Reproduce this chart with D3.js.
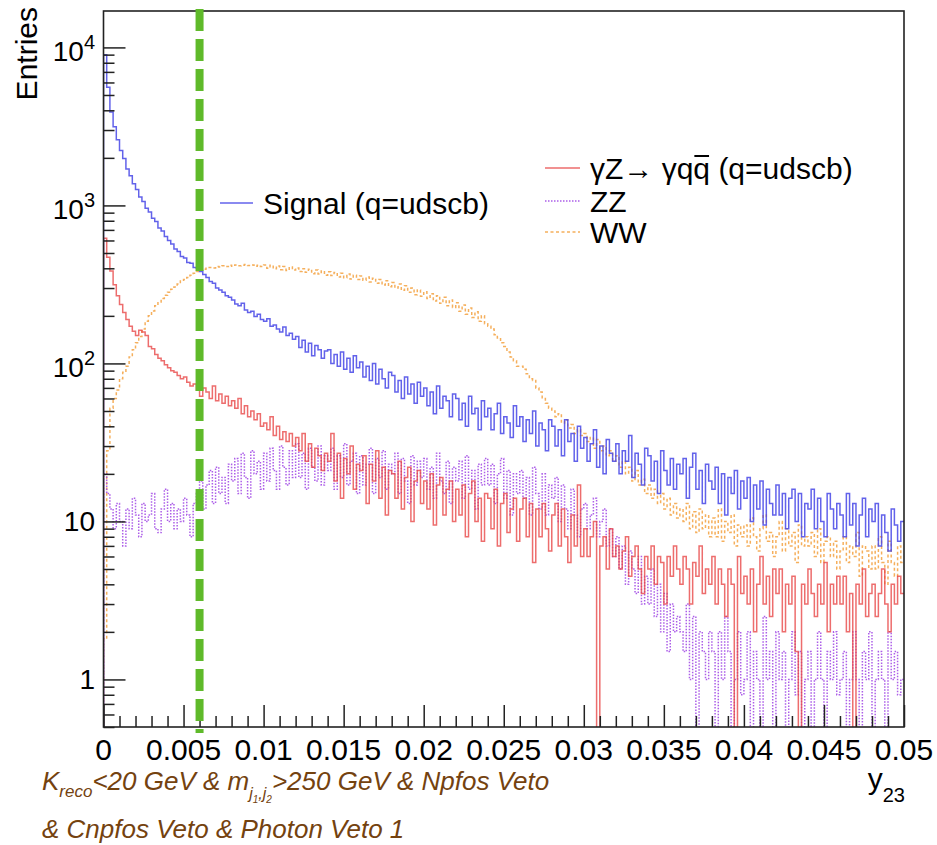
<!DOCTYPE html>
<html><head><meta charset="utf-8">
<script src="https://cdn.jsdelivr.net/npm/d3@7"></script>
<style>body{margin:0;background:#fff}svg{display:block}</style>
</head><body><svg id="c" width="937" height="845"></svg>
<script>
// ---------------- DATA ----------------
const xDomain = [0, 0.05];
const yDomain = [0.5, 17000];
const xTickValues = [0, 0.005, 0.01, 0.015, 0.02, 0.025, 0.03, 0.035, 0.04, 0.045, 0.05];
const xTickLabels = ["0", "0.005", "0.01", "0.015", "0.02", "0.025", "0.03", "0.035", "0.04", "0.045", "0.05"];
const yTickValues = [1, 10, 100, 1000, 10000];
const yTickBase = ["1", "10", "10", "10", "10"];
const yTickExp = ["", "", "2", "3", "4"];
const cutValue = 0.006;

// 250 bins of width 0.0002 from 0 to 0.05
const signal = [
 9000,5600,3900,3150,2600,2230,1980,1700,1540,1370,
 1260,1130,1060,960,910,830,790,720,690,635,
 600,570,530,510,475,465,435,430,405,400,
 382,365,350,330,322,300,292,282,268,262,
 252,238,232,240,218,210,214,198,205,190,
 185,192,172,175,165,158,170,150,155,142,
 148,126,140,118,134,112,130,122,108,120,
 122,100,114,96,118,92,108,88,112,94,
 102,82,96,78,100,74,92,80,70,88,
 84,66,78,60,82,64,74,56,76,62,
 70,54,66,48,72,52,62,58,46,64,
 60,44,56,40,62,48,52,38,58,46,
 52,38,48,56,36,46,42,34,54,40,
 46,32,44,36,50,30,42,38,28,44,
 40,30,38,26,44,32,36,24,40,29,
 34,24,31,38,22,30,20,33,27,24,
 31,20,28,24,35,19,27,23,17,29,
 26,18,24,15,28,21,17,25,16,23,
 20,25,14,22,27,16,21,13,23,18,
 16,22,13,20,11,19,15,21,12,18,
 14,19,10,17,12,18,9.5,16,13,11,
 17,11,15,9,14,16,10,15,8,13,
 12,16,9,14,10,8,15,12,9,13,
 11,8,15,9.5,13,7,11,14,8,12,
 10,13,7,11,8.5,6.5,12,9.5,7.5,10
];
const gammaZ = [
 620,470,385,315,268,236,210,190,172,160,
 150,162,158,150,128,124,114,108,104,98,
 94,90,88,84,80,82,76,72,74,68,
 62,70,66,60,72,58,64,56,62,54,
 58,52,60,48,54,46,50,44,48,40,
 42,38,46,35,40,33,37,32,36,30,
 34,28,36,24,31,22,29,26,21,27,
 24,36,18,27,14,25,20,30,16,23,
 21,26,13,23,18,28,14,22,11,21,
 20,14,24,12,19,22,10,18,21,13,
 18,12,20,9.5,17,19,11,16,18,10,
 16,11,17,8,15,18,10,14,7.5,15,
 14,9,16,7,13,15,8.5,12,14,7.5,
 12,14,8,13,5.5,12,8,13,9,6.5,
 11,13,7,12,8,5.5,11,7,17,6,
 9,6,8,10,0,7,8,5,9,6,
 7,5,6.5,8,4.5,6,7,5,3.5,6,
 5,7,4,6,5.5,3,6,4.5,7,5,
 4,6,5,3,5.5,4.5,7,3.5,5,4,
 6,3,5,4,2.5,5,4,0,6,3.5,
 4.5,3,5,2,4,6,3,4.5,2.5,5,
 3.5,5,2,4,3,4.5,1.5,0,4,3,
 5,3.5,2.5,4,3,5.5,2,4,3,4.5,
 3,4.5,2,3.5,0,4,3,5,2.5,3.5,
 4,2.5,3.5,5,3,2,4,3,4.5,3.5
];
const zz = [
 20,15,12,9,13,10,7,12,9,14,
 11,8,13,10,11,15,9,8.5,12,16,
 10,13,9,12,10,14,11,8,13,15,
 18,12,17,21,13,22,15,19,13,23,
 18,25,15,27,19,14,28,20,24,16,
 27,18,29,21,16,30,22,17,28,19,
 31,19,27,16,29,22,18,30,17,26,
 21,29,16,26,19,31,17,24,27,15,
 26,17,23,29,15,25,19,28,16,23,
 20,27,15,25,18,13,26,17,24,19,
 25,16,22,14,27,18,15,24,13,22,
 18,24,14,26,16,21,12,23,17,25,
 17,23,13,20,25,14,21,11,20,15,
 21,14,19,11,22,15,12,20,11,17,
 14,19,10,17,12,9,16,11,8,12,
 13,9,11,14,8,10,12,7,9,6,
 8,5,7,4,6.5,5,3.5,6,3,4.5,
 3,5,2.5,4,2,3.5,1.5,3,2,2.5,
 2,1.5,3,1,2.5,0,2,1.5,1,2,
 1.5,0,2,1,2.5,1.5,0,1,2,0.8,
 1,2,0,1.5,1,0,2.5,1,1.5,0,
 2,1,1.5,0,1,2,0.8,1.5,0,1,
 1.5,0,1,2,1,0,1.5,1,2,0.8,
 1,1.5,0,1,2,1,0,1.5,1,2,
 0,1,1.5,1,0,2,1,1.5,0.8,1
];
const ww = [
 1.8,28,52,60,68,80,88,96,110,122,
 135,148,165,185,200,215,232,245,258,270,
 282,295,305,318,332,340,350,362,372,382,
 390,395,400,405,402,410,408,415,410,418,
 412,420,415,418,422,416,420,412,418,410,
 420,400,418,398,414,392,410,388,408,390,
 402,382,398,378,395,370,390,368,385,362,
 380,360,376,352,372,348,368,342,362,340,
 358,336,352,328,346,322,340,314,334,306,
 325,300,318,290,310,282,300,272,292,266,
 284,258,276,248,268,240,262,232,252,226,
 242,214,234,205,224,195,212,185,200,178,
 172,165,152,145,135,128,118,110,104,96,
 96,92,86,80,78,70,66,60,56,52,
 50,46,48,42,44,39,41,36,38,35,
 36,32,34,29,33,28,30,26,28,24,
 26,22,24,20,22,18,21,17,18.5,15,
 17,14,16,13,15,12,14,11,13,10.5,
 12,10,13,9,11.5,8.5,12,9,11,8,
 10.5,8,12,7.5,10,8.5,11,7,9.5,8,
 9.5,7,10.5,8,6.5,9,11,7.5,8.5,6,
 8,10,6.5,9,7,8.5,5.5,9.5,7,8,
 7,8.5,6,9,5.5,7.5,8,6,7.5,5,
 6.5,8,5.5,7,6,8.5,4.5,7,6.5,5,
 7,5,8,5.5,4,7.5,5.5,4.5,7,5.5
];

const series = [
  {name: "WW", values: ww, color: "#f4a64a", dash: "3,2.5", opacity: 0.9},
  {name: "ZZ", values: zz, color: "#a34de6", dash: "1.5,1.5", opacity: 0.9},
  {name: "gZ", values: gammaZ, color: "#e84444", dash: null, opacity: 0.78},
  {name: "Signal (q=udscb)", values: signal, color: "#4646e6", dash: null, opacity: 0.85}
];

// ---------------- LAYOUT ----------------
const L = 103.5, R = 904, T = 11, B = 727;
const svg = d3.select("#c");
const FONT = "'Liberation Sans', Arial, Helvetica, sans-serif";

const x = d3.scaleLinear().domain(xDomain).range([L, R]);
const y = d3.scaleLog().domain(yDomain).range([B, T]).clamp(true);

svg.append("rect").attr("width", 937).attr("height", 845).attr("fill", "#fff");

svg.append("defs").append("clipPath").attr("id", "clip")
  .append("rect").attr("x", L).attr("y", T).attr("width", R - L).attr("height", B - T);

// histogram step paths
function stepPath(vals) {
  const n = vals.length;
  const w = (xDomain[1] - xDomain[0]) / n;
  const yy = v => v > 0 ? y(v) : B + 2;
  let d = `M${x(xDomain[0])},${B + 2}V${yy(vals[0])}`;
  for (let i = 0; i < n; i++) {
    d += `H${x(xDomain[0] + (i + 1) * w)}`;
    if (i < n - 1) d += `V${yy(vals[i + 1])}`;
  }
  return d;
}
const gh = svg.append("g").attr("clip-path", "url(#clip)");
series.forEach(s => {
  gh.append("path").attr("d", stepPath(s.values))
    .attr("fill", "none").attr("stroke", s.color).attr("stroke-width", 1.5)
    .attr("stroke-opacity", s.opacity)
    .attr("stroke-dasharray", s.dash);
});

// axes ticks (inward)
const xMinor = d3.range(0, 51).map(i => i * 0.001).filter(v => !xTickValues.some(t => Math.abs(t - v) < 1e-9));
const gx = svg.append("g").attr("transform", `translate(0,${B})`);
gx.call(d3.axisBottom(x).tickValues(xTickValues).tickSize(-22).tickFormat(""));
gx.call(g => g.select(".domain").remove());
const gx2 = svg.append("g").attr("transform", `translate(0,${B})`);
gx2.call(d3.axisBottom(x).tickValues(xMinor).tickSize(-11).tickFormat(""));
gx2.call(g => g.select(".domain").remove());

const yMinor = [];
[0.1, 1, 10, 100, 1000].forEach(d => { for (let k = 2; k <= 9; k++) { const v = d * k; if (v >= yDomain[0] && v <= yDomain[1]) yMinor.push(v); } });
const gy = svg.append("g").attr("transform", `translate(${L},0)`);
gy.call(d3.axisLeft(y).tickValues(yTickValues).tickSize(-22).tickFormat(""));
gy.call(g => g.select(".domain").remove());
const gy2 = svg.append("g").attr("transform", `translate(${L},0)`);
gy2.call(d3.axisLeft(y).tickValues(yMinor).tickSize(-11).tickFormat(""));
gy2.call(g => g.select(".domain").remove());
svg.selectAll(".tick line").attr("stroke", "#222").attr("stroke-width", 1.5);

// frame
svg.append("rect").attr("x", L).attr("y", T).attr("width", R - L).attr("height", B - T)
  .attr("fill", "none").attr("stroke", "#222").attr("stroke-width", 1.6);

// x tick labels
xTickValues.forEach((v, i) => {
  svg.append("text").attr("x", x(v)).attr("y", 760).attr("text-anchor", "middle")
    .attr("font-family", FONT).attr("font-size", 30).attr("fill", "#000").text(xTickLabels[i]);
});
// y tick labels
yTickValues.forEach((v, i) => {
  const t = svg.append("text").attr("x", 95).attr("text-anchor", "end")
    .attr("font-family", FONT).attr("font-size", 28).attr("fill", "#000");
  if (yTickExp[i]) {
    t.attr("y", y(v) + 14);
    t.append("tspan").text(yTickBase[i]);
    t.append("tspan").attr("font-size", 20).attr("dy", -12).text(yTickExp[i]);
  } else {
    t.attr("y", y(v) + 10).text(yTickBase[i]);
  }
});

// axis titles
svg.append("text").attr("transform", "translate(37,7) rotate(-90)").attr("text-anchor", "end")
  .attr("font-family", FONT).attr("font-size", 30).attr("fill", "#000").text("Entries");
const yt = svg.append("text").attr("x", 905).attr("y", 789).attr("text-anchor", "end")
  .attr("font-family", FONT).attr("font-size", 30).attr("fill", "#000");
yt.append("tspan").text("y");
yt.append("tspan").attr("font-size", 20).attr("dy", 13).text("23");

// green cut line
svg.append("line").attr("x1", x(cutValue)).attr("x2", x(cutValue)).attr("y1", 9).attr("y2", 733)
  .attr("stroke", "#5fba2a").attr("stroke-width", 8).attr("stroke-dasharray", "22,8");

// legends
function legLine(x1, x2, yv, s) {
  svg.append("line").attr("x1", x1).attr("x2", x2).attr("y1", yv).attr("y2", yv)
    .attr("stroke", s.color).attr("stroke-width", 1.5).attr("stroke-opacity", s.opacity)
    .attr("stroke-dasharray", s.dash);
}
legLine(220, 253, 203, series[3]);
svg.append("text").attr("x", 263).attr("y", 214).attr("font-family", FONT).attr("font-size", 30)
  .attr("fill", "#000").text("Signal (q=udscb)");

legLine(545, 580, 168, series[2]);
legLine(545, 580, 201, series[1]);
legLine(545, 580, 232, series[0]);
const gzt = svg.append("text").attr("x", 590).attr("y", 179).attr("font-family", FONT).attr("font-size", 30).attr("fill", "#000");
gzt.append("tspan").text("\u03B3Z\u2192 \u03B3q");
gzt.append("tspan").text("q");
gzt.append("tspan").text(" (q=udscb)");
const qIdx = ("\u03B3Z\u2192 \u03B3q").length;
const ext = gzt.node().getExtentOfChar(qIdx);
svg.append("line").attr("x1", ext.x + 1).attr("x2", ext.x + ext.width - 1)
  .attr("y1", 179 - 23).attr("y2", 179 - 23).attr("stroke", "#000").attr("stroke-width", 2);
svg.append("text").attr("x", 590).attr("y", 212).attr("font-family", FONT).attr("font-size", 30).attr("fill", "#000").text("ZZ");
svg.append("text").attr("x", 590).attr("y", 243).attr("font-family", FONT).attr("font-size", 30).attr("fill", "#000").text("WW");

// cut description (brown italic)
const BROWN = "#74420f";
const l1 = svg.append("text").attr("x", 42).attr("y", 790).attr("font-family", FONT).attr("font-style", "italic")
  .attr("font-size", 26).attr("fill", BROWN);
l1.append("tspan").text("K");
l1.append("tspan").attr("font-size", 17).attr("dy", 7).text("reco");
l1.append("tspan").attr("dy", -7).text("<20 GeV & m");
l1.append("tspan").attr("font-size", 16).attr("dy", 9).text("j");
l1.append("tspan").attr("font-size", 10).attr("dy", 4).text("1");
l1.append("tspan").attr("font-size", 16).attr("dy", -4).text(",j");
l1.append("tspan").attr("font-size", 10).attr("dy", 4).text("2");
l1.append("tspan").attr("dy", -13).text(">250 GeV & Npfos Veto");
svg.append("text").attr("x", 42).attr("y", 838).attr("font-family", FONT).attr("font-style", "italic")
  .attr("font-size", 26).attr("fill", BROWN).text("& Cnpfos Veto & Photon Veto 1");
</script>
</body></html>
